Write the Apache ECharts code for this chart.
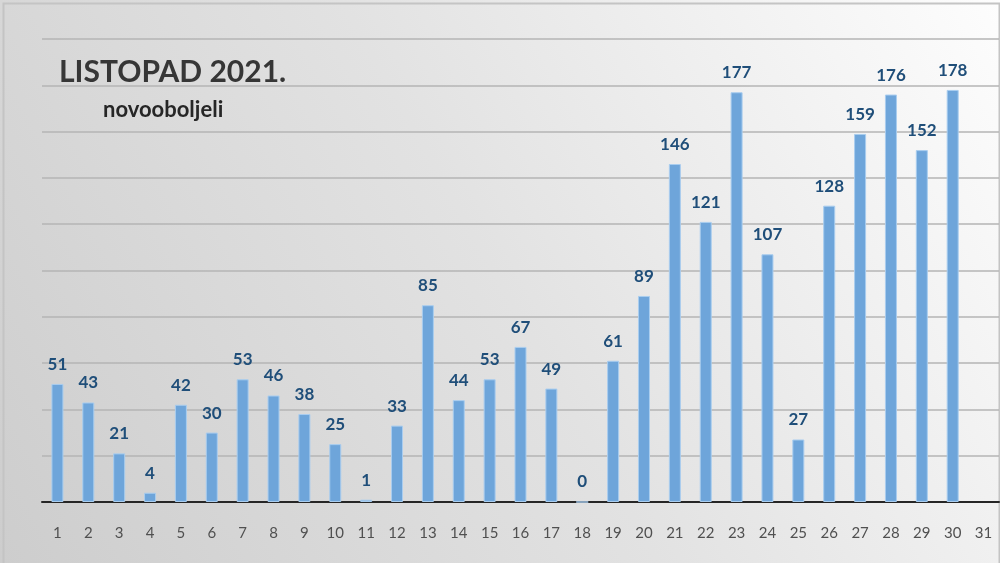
<!DOCTYPE html>
<html>
<head>
<meta charset="utf-8">
<script src="https://cdn.jsdelivr.net/npm/echarts@6/dist/echarts.min.js"></script>
<style>
  html, body { margin: 0; padding: 0; }
  #chart { width: 1000px; height: 563px; }
</style>
</head>
<body>
<div id="chart"></div>
<script>
const days = [];
for (let d = 1; d <= 31; d++) days.push(String(d));

// novooboljeli po danu, studeni 2021 (31. nema podatka)
const cases = [51, 43, 21, 4, 42, 30, 53, 46, 38, 25, 1, 33, 85, 44, 53, 67, 49, 0, 61, 89,
  146, 121, 177, 107, 27, 128, 159, 176, 152, 178, null];

const titleText = 'LISTOPAD 2021.';
const subtitleText = 'novooboljeli';

const myChart = echarts.init(document.getElementById('chart'));

myChart.setOption({
    animation: false,
    textStyle: { fontFamily: 'Lato' },
    backgroundColor: {
        type: 'linear', x: 0, y: 1, x2: 1, y2: 0,
        colorStops: [
            { offset: 0, color: '#cdcdcd' },
            { offset: 0.5, color: '#e2e2e2' },
            { offset: 1, color: '#fdfdfd' }
        ]
    },
    title: [
        {
            text: titleText,
            left: 54,
            top: 52,
            textStyle: { fontFamily: 'Lato', fontWeight: 'bold', fontSize: 30, color: '#363636' }
        },
        {
            text: subtitleText,
            left: 98,
            top: 94,
            textStyle: { fontFamily: 'Lato', fontWeight: 'bold', fontSize: 22, color: '#262626' }
        }
    ],
    grid: { left: 42, right: 1, top: 39, bottom: 61 },
    xAxis: {
        type: 'category',
        data: days,
        axisLine: { lineStyle: { color: '#262626', width: 2 } },
        axisTick: { show: false },
        axisLabel: { color: '#505050', fontFamily: 'Lato', fontSize: 15, margin: 24 }
    },
    yAxis: {
        type: 'value',
        min: 0,
        max: 200,
        interval: 20,
        axisLabel: { show: false },
        axisLine: { show: false },
        axisTick: { show: false },
        splitLine: { lineStyle: { color: '#b4b4b4', width: 1.5 } }
    },
    series: [
        {
            name: 'novooboljeli',
            type: 'bar',
            data: cases,
            barWidth: 12,
            itemStyle: { color: '#6ea5da', borderColor: '#a9cdef', borderWidth: 1 },
            label: {
                show: true,
                position: 'top',
                distance: 11,
                color: '#1f4e79',
                fontFamily: 'Lato',
                fontWeight: 'bold',
                fontSize: 17
            }
        }
    ],
    graphic: [
        {
            type: 'rect',
            left: 1, top: 1,
            shape: { width: 996, height: 561 },
            style: { fill: 'none', stroke: '#c4c4c4', lineWidth: 2 },
            silent: true
        }
    ]
});
</script>
</body>
</html>
